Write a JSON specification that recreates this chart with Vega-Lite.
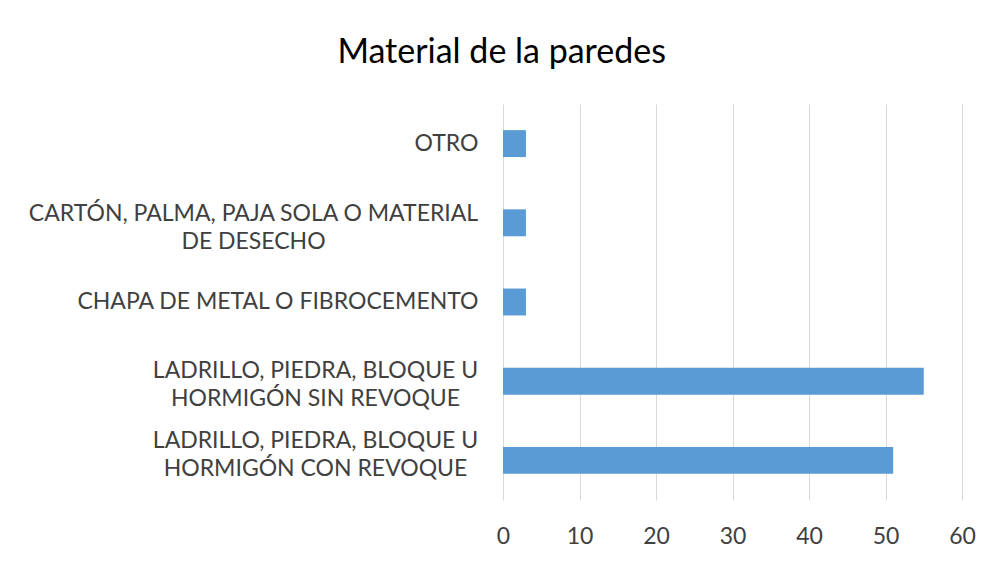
{
  "$schema": "https://vega.github.io/schema/vega-lite/v6.json",
  "width": 459,
  "height": 396,
  "padding": {"left": 8, "top": 36, "right": 29, "bottom": 10},
  "background": "white",
  "title": {
    "text": "Material de la paredes",
    "fontSize": 34,
    "font": "Lato",
    "fontWeight": "normal",
    "color": "#000000",
    "anchor": "middle",
    "frame": "bounds",
    "dx": 10,
    "offset": 34
  },
  "data": {
    "values": [
      {"categoria": "OTRO", "valor": 3},
      {"categoria": "CARTÓN, PALMA, PAJA SOLA O MATERIAL DE DESECHO", "valor": 3},
      {"categoria": "CHAPA DE METAL O FIBROCEMENTO", "valor": 3},
      {"categoria": "LADRILLO, PIEDRA, BLOQUE U HORMIGÓN SIN REVOQUE", "valor": 55},
      {"categoria": "LADRILLO, PIEDRA, BLOQUE U HORMIGÓN CON REVOQUE", "valor": 51}
    ]
  },
  "mark": {"type": "bar", "color": "#5B9BD5"},
  "encoding": {
    "y": {
      "field": "categoria",
      "type": "nominal",
      "sort": null,
      "title": null,
      "scale": {"paddingInner": 0.66, "paddingOuter": 0.33},
      "axis": {
        "ticks": false,
        "domain": false,
        "grid": false,
        "labelFont": "Lato",
        "labelFontSize": 23,
        "labelColor": "#404040",
        "labelLimit": 700,
        "labelLineHeight": 28,
        "minExtent": 495,
        "maxExtent": 495,
        "labelAlign": {
          "condition": {"test": "indexof(datum.value, 'LADRILLO') >= 0 || indexof(datum.value, 'CARTÓN') >= 0", "value": "center"},
          "value": "right"
        },
        "labelPadding": {
          "condition": [
            {"test": "indexof(datum.value, 'LADRILLO') >= 0", "value": 188},
            {"test": "indexof(datum.value, 'CARTÓN') >= 0", "value": 250}
          ],
          "value": 25
        },
        "labelOffset": {
          "condition": [
            {"test": "indexof(datum.value, 'CON REVOQUE') >= 0", "value": -19},
            {"test": "indexof(datum.value, 'SIN REVOQUE') >= 0", "value": -10},
            {"test": "indexof(datum.value, 'CARTÓN') >= 0", "value": -9}
          ],
          "value": 0
        },
        "labelExpr": "datum.label == 'CARTÓN, PALMA, PAJA SOLA O MATERIAL DE DESECHO' ? ['CARTÓN, PALMA, PAJA SOLA O MATERIAL', 'DE DESECHO'] : datum.label == 'LADRILLO, PIEDRA, BLOQUE U HORMIGÓN SIN REVOQUE' ? ['LADRILLO, PIEDRA, BLOQUE U', 'HORMIGÓN SIN REVOQUE'] : datum.label == 'LADRILLO, PIEDRA, BLOQUE U HORMIGÓN CON REVOQUE' ? ['LADRILLO, PIEDRA, BLOQUE U', 'HORMIGÓN CON REVOQUE'] : datum.label"
      }
    },
    "x": {
      "field": "valor",
      "type": "quantitative",
      "title": null,
      "scale": {"domain": [0, 60], "nice": false},
      "axis": {
        "values": [0, 10, 20, 30, 40, 50, 60],
        "ticks": false,
        "domain": false,
        "grid": true,
        "gridColor": "#d9d9d9",
        "gridWidth": 1,
        "labelFont": "Lato",
        "labelFontSize": 23,
        "labelColor": "#404040",
        "labelPadding": 25,
        "labelFlush": false
      }
    }
  },
  "config": {"view": {"stroke": null}}
}
